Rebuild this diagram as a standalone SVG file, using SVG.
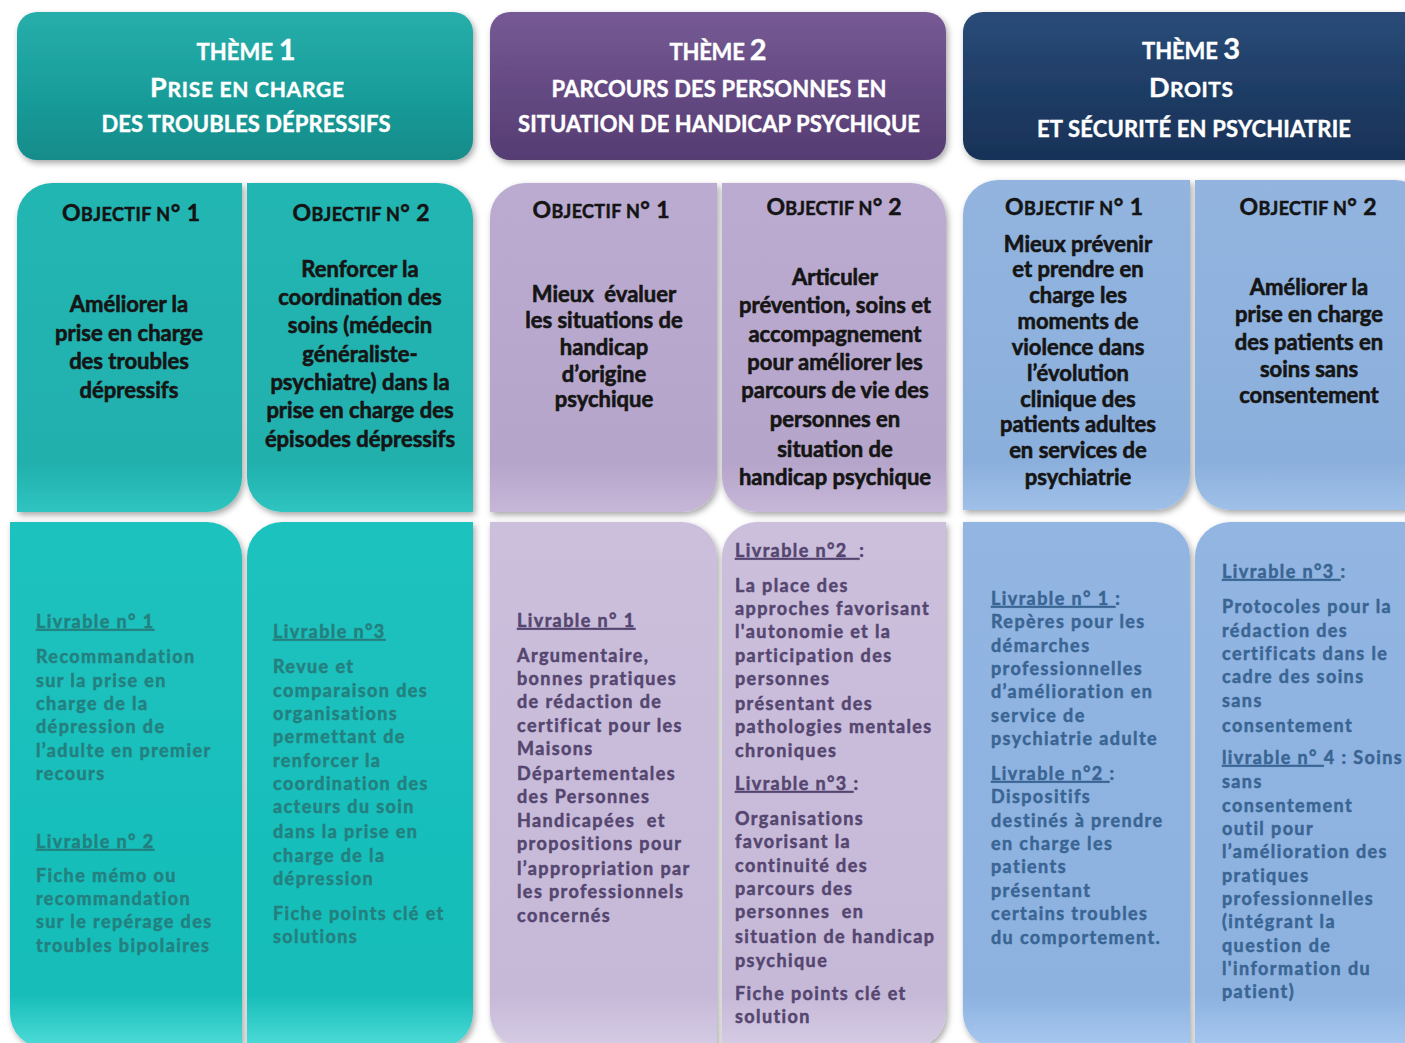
<svg xmlns="http://www.w3.org/2000/svg" width="1405" height="1043" viewBox="0 0 1405 1043">
<defs>
<filter id="sh" x="-10%" y="-10%" width="120%" height="120%">
<feDropShadow dx="2" dy="3" stdDeviation="3" flood-color="#000" flood-opacity="0.35"/>
</filter>
<linearGradient id="gH1" x1="0" y1="0" x2="0" y2="1"><stop offset="0" stop-color="#27aeab"/><stop offset="0.5" stop-color="#1a9f9c"/><stop offset="1" stop-color="#148c8a"/></linearGradient>
<linearGradient id="gH2" x1="0" y1="0" x2="0" y2="1"><stop offset="0" stop-color="#765a95"/><stop offset="0.5" stop-color="#654a83"/><stop offset="1" stop-color="#553d72"/></linearGradient>
<linearGradient id="gH3" x1="0" y1="0" x2="0" y2="1"><stop offset="0" stop-color="#2a4c79"/><stop offset="0.5" stop-color="#1f3d66"/><stop offset="1" stop-color="#183257"/></linearGradient>
<linearGradient id="gO1" x1="0" y1="0" x2="0" y2="1"><stop offset="0" stop-color="#24b6b3"/><stop offset="0.85" stop-color="#20b0ad"/><stop offset="1" stop-color="#2fc4c0"/></linearGradient>
<linearGradient id="gO2" x1="0" y1="0" x2="0" y2="1"><stop offset="0" stop-color="#bcabd0"/><stop offset="0.85" stop-color="#b6a5ca"/><stop offset="1" stop-color="#c6b7d8"/></linearGradient>
<linearGradient id="gO3" x1="0" y1="0" x2="0" y2="1"><stop offset="0" stop-color="#92b4df"/><stop offset="0.85" stop-color="#8bafdc"/><stop offset="1" stop-color="#9fc0e8"/></linearGradient>
<linearGradient id="gL1" x1="0" y1="0" x2="0" y2="1"><stop offset="0" stop-color="#1bc2be"/><stop offset="0.9" stop-color="#18bdb9"/><stop offset="1" stop-color="#4fdcd8"/></linearGradient>
<linearGradient id="gL2" x1="0" y1="0" x2="0" y2="1"><stop offset="0" stop-color="#cbbfdc"/><stop offset="0.9" stop-color="#c6b9d8"/><stop offset="1" stop-color="#d6cce4"/></linearGradient>
<linearGradient id="gL3" x1="0" y1="0" x2="0" y2="1"><stop offset="0" stop-color="#92b5e2"/><stop offset="0.9" stop-color="#8db2e0"/><stop offset="1" stop-color="#a8c8f0"/></linearGradient>
<style>
.h{font-family:Lato,"Open Sans","Liberation Sans",sans-serif;font-weight:700;fill:#ffffff;stroke:#ffffff;stroke-width:0.4px;text-anchor:middle}
.ot{font-family:Lato,"Open Sans","Liberation Sans",sans-serif;font-weight:700;fill:#141414;stroke:#141414;stroke-width:0.5px;text-anchor:middle}
.ob{font-family:Lato,"Open Sans","Liberation Sans",sans-serif;font-weight:700;fill:#151515;stroke:#151515;stroke-width:0.6px;text-anchor:middle;font-size:22px}
.lv{font-family:Lato,"Open Sans","Liberation Sans",sans-serif;font-weight:700;font-size:18px;letter-spacing:1.4px;stroke-width:0.5px}
.c1{fill:#24807f;stroke:#24807f}
.c2{fill:#554670;stroke:#554670}
.c3{fill:#3a6593;stroke:#3a6593}
.u{text-decoration:underline}
</style>
</defs>
<rect width="1405" height="1043" fill="#ffffff"/>

<g id="theme1">
<rect x="17" y="12" width="456" height="148" rx="20" fill="url(#gH1)" filter="url(#sh)"/>
<text class="h" x="246" y="60" textLength="99"><tspan font-size="22">THÈME </tspan><tspan font-size="29">1</tspan></text>
<text class="h" x="247" y="97" textLength="194"><tspan font-size="27">P</tspan><tspan font-size="21">RISE EN CHARGE</tspan></text>
<text class="h" x="246" y="132" font-size="22" textLength="289">DES TROUBLES DÉPRESSIFS</text>
</g>
<g id="theme2">
<rect x="490" y="12" width="456" height="148" rx="20" fill="url(#gH2)" filter="url(#sh)"/>
<text class="h" x="718" y="60" textLength="97"><tspan font-size="22">THÈME </tspan><tspan font-size="29">2</tspan></text>
<text class="h" x="719" y="97" font-size="22" textLength="335">PARCOURS DES PERSONNES EN</text>
<text class="h" x="719" y="132" font-size="22" textLength="402">SITUATION DE HANDICAP PSYCHIQUE</text>
</g>
<g id="theme3">
<rect x="963" y="12" width="470" height="148" rx="20" fill="url(#gH3)" filter="url(#sh)"/>
<text class="h" x="1191" y="59" textLength="98"><tspan font-size="22">THÈME </tspan><tspan font-size="29">3</tspan></text>
<text class="h" x="1191" y="97" textLength="84"><tspan font-size="27">D</tspan><tspan font-size="21">ROITS</tspan></text>
<text class="h" x="1194" y="137" font-size="22" textLength="314">ET SÉCURITÉ EN PSYCHIATRIE</text>
</g>

<g id="t1-objectif1">
<path d="M52 183 H242 V477 A35 35 0 0 1 207 512 H17 V218 A35 35 0 0 1 52 183 Z" fill="url(#gO1)" filter="url(#sh)"/>
<text class="ot" x="131" y="221" textLength="138"><tspan font-size="23">O</tspan><tspan font-size="18">BJECTIF N</tspan><tspan font-size="23">° 1</tspan></text>
<text class="ob" x="129" y="312">Améliorer la</text>
<text class="ob" x="129" y="341">prise en charge</text>
<text class="ob" x="129" y="369">des troubles</text>
<text class="ob" x="129" y="398">dépressifs</text>
</g>
<g id="t1-objectif2">
<path d="M247 183 H438 A35 35 0 0 1 473 218 V512 H282 A35 35 0 0 1 247 477 Z" fill="url(#gO1)" filter="url(#sh)"/>
<text class="ot" x="361" y="221" textLength="137"><tspan font-size="23">O</tspan><tspan font-size="18">BJECTIF N</tspan><tspan font-size="23">° 2</tspan></text>
<text class="ob" x="360" y="277">Renforcer la</text>
<text class="ob" x="360" y="305">coordination des</text>
<text class="ob" x="360" y="333">soins (médecin</text>
<text class="ob" x="360" y="362">généraliste-</text>
<text class="ob" x="360" y="390">psychiatre) dans la</text>
<text class="ob" x="360" y="418">prise en charge des</text>
<text class="ob" x="360" y="447">épisodes dépressifs</text>
</g>
<g id="t2-objectif1">
<path d="M525 183 H717 V477 A35 35 0 0 1 682 512 H490 V218 A35 35 0 0 1 525 183 Z" fill="url(#gO2)" filter="url(#sh)"/>
<text class="ot" x="601" y="218" textLength="137"><tspan font-size="23">O</tspan><tspan font-size="18">BJECTIF N</tspan><tspan font-size="23">° 1</tspan></text>
<text class="ob" x="604" y="302" xml:space="preserve">Mieux  évaluer</text>
<text class="ob" x="604" y="328">les situations de</text>
<text class="ob" x="604" y="355">handicap</text>
<text class="ob" x="604" y="382">d’origine</text>
<text class="ob" x="604" y="407">psychique</text>
</g>
<g id="t2-objectif2">
<path d="M722 183 H911 A35 35 0 0 1 946 218 V512 H757 A35 35 0 0 1 722 477 Z" fill="url(#gO2)" filter="url(#sh)"/>
<text class="ot" x="834" y="215" textLength="135"><tspan font-size="23">O</tspan><tspan font-size="18">BJECTIF N</tspan><tspan font-size="23">° 2</tspan></text>
<text class="ob" x="835" y="285">Articuler</text>
<text class="ob" x="835" y="313">prévention, soins et</text>
<text class="ob" x="835" y="342">accompagnement</text>
<text class="ob" x="835" y="370">pour améliorer les</text>
<text class="ob" x="835" y="398">parcours de vie des</text>
<text class="ob" x="835" y="427">personnes en</text>
<text class="ob" x="835" y="457">situation de</text>
<text class="ob" x="835" y="485">handicap psychique</text>
</g>
<g id="t3-objectif1">
<path d="M998 180 H1190 V475 A35 35 0 0 1 1155 510 H963 V215 A35 35 0 0 1 998 180 Z" fill="url(#gO3)" filter="url(#sh)"/>
<text class="ot" x="1074" y="215" textLength="138"><tspan font-size="23">O</tspan><tspan font-size="18">BJECTIF N</tspan><tspan font-size="23">° 1</tspan></text>
<text class="ob" x="1078" y="252">Mieux prévenir</text>
<text class="ob" x="1078" y="277">et prendre en</text>
<text class="ob" x="1078" y="303">charge les</text>
<text class="ob" x="1078" y="329">moments de</text>
<text class="ob" x="1078" y="355">violence dans</text>
<text class="ob" x="1078" y="381">l’évolution</text>
<text class="ob" x="1078" y="407">clinique des</text>
<text class="ob" x="1078" y="432">patients adultes</text>
<text class="ob" x="1078" y="458">en services de</text>
<text class="ob" x="1078" y="485">psychiatrie</text>
</g>
<g id="t3-objectif2">
<path d="M1195 180 H1395 A35 35 0 0 1 1430 215 V510 H1230 A35 35 0 0 1 1195 475 Z" fill="url(#gO3)" filter="url(#sh)"/>
<text class="ot" x="1308" y="215" textLength="137"><tspan font-size="23">O</tspan><tspan font-size="18">BJECTIF N</tspan><tspan font-size="23">° 2</tspan></text>
<text class="ob" x="1309" y="295">Améliorer la</text>
<text class="ob" x="1309" y="322">prise en charge</text>
<text class="ob" x="1309" y="350">des patients en</text>
<text class="ob" x="1309" y="377">soins sans</text>
<text class="ob" x="1309" y="403">consentement</text>
</g>

<g id="t1-livrables1">
<path d="M10 522 H207 A35 35 0 0 1 242 557 V1048 H45 A35 35 0 0 1 10 1013 Z" fill="url(#gL1)" filter="url(#sh)"/>
<text class="lv c1" x="36" y="628"><tspan class="u">Livrable n° 1</tspan></text>
<text class="lv c1" x="36" y="663">Recommandation</text>
<text class="lv c1" x="36" y="687">sur la prise en</text>
<text class="lv c1" x="36" y="710">charge de la</text>
<text class="lv c1" x="36" y="733">dépression de</text>
<text class="lv c1" x="36" y="757">l’adulte en premier</text>
<text class="lv c1" x="36" y="780">recours</text>
<text class="lv c1" x="36" y="848"><tspan class="u">Livrable n° 2</tspan></text>
<text class="lv c1" x="36" y="882">Fiche mémo ou</text>
<text class="lv c1" x="36" y="905">recommandation</text>
<text class="lv c1" x="36" y="928">sur le repérage des</text>
<text class="lv c1" x="36" y="952">troubles bipolaires</text>
</g>
<g id="t1-livrables2">
<path d="M282 522 H473 V1013 A35 35 0 0 1 438 1048 H247 V557 A35 35 0 0 1 282 522 Z" fill="url(#gL1)" filter="url(#sh)"/>
<text class="lv c1" x="273" y="638"><tspan class="u">Livrable n°3</tspan></text>
<text class="lv c1" x="273" y="673">Revue et</text>
<text class="lv c1" x="273" y="697">comparaison des</text>
<text class="lv c1" x="273" y="720">organisations</text>
<text class="lv c1" x="273" y="743">permettant de</text>
<text class="lv c1" x="273" y="767">renforcer la</text>
<text class="lv c1" x="273" y="790">coordination des</text>
<text class="lv c1" x="273" y="813">acteurs du soin</text>
<text class="lv c1" x="273" y="838">dans la prise en</text>
<text class="lv c1" x="273" y="862">charge de la</text>
<text class="lv c1" x="273" y="885">dépression</text>
<text class="lv c1" x="273" y="920">Fiche points clé et</text>
<text class="lv c1" x="273" y="943">solutions</text>
</g>
<g id="t2-livrables1">
<path d="M490 522 H682 A35 35 0 0 1 717 557 V1048 H525 A35 35 0 0 1 490 1013 Z" fill="url(#gL2)" filter="url(#sh)"/>
<text class="lv c2" x="517" y="627"><tspan class="u">Livrable n° 1</tspan></text>
<text class="lv c2" x="517" y="662">Argumentaire,</text>
<text class="lv c2" x="517" y="685">bonnes pratiques</text>
<text class="lv c2" x="517" y="708">de rédaction de</text>
<text class="lv c2" x="517" y="732">certificat pour les</text>
<text class="lv c2" x="517" y="755">Maisons</text>
<text class="lv c2" x="517" y="780">Départementales</text>
<text class="lv c2" x="517" y="803">des Personnes</text>
<text class="lv c2" x="517" y="827" xml:space="preserve">Handicapées  et</text>
<text class="lv c2" x="517" y="850">propositions pour</text>
<text class="lv c2" x="517" y="875">l’appropriation par</text>
<text class="lv c2" x="517" y="898">les professionnels</text>
<text class="lv c2" x="517" y="922">concernés</text>
</g>
<g id="t2-livrables2">
<path d="M757 522 H946 V1013 A35 35 0 0 1 911 1048 H722 V557 A35 35 0 0 1 757 522 Z" fill="url(#gL2)" filter="url(#sh)"/>
<text class="lv c2" x="735" y="557" xml:space="preserve"><tspan class="u">Livrable n°2  </tspan>:</text>
<text class="lv c2" x="735" y="592">La place des</text>
<text class="lv c2" x="735" y="615">approches favorisant</text>
<text class="lv c2" x="735" y="638">l'autonomie et la</text>
<text class="lv c2" x="735" y="662">participation des</text>
<text class="lv c2" x="735" y="685">personnes</text>
<text class="lv c2" x="735" y="710">présentant des</text>
<text class="lv c2" x="735" y="733">pathologies mentales</text>
<text class="lv c2" x="735" y="757">chroniques</text>
<text class="lv c2" x="735" y="790" xml:space="preserve"><tspan class="u">Livrable n°3 </tspan>:</text>
<text class="lv c2" x="735" y="825">Organisations</text>
<text class="lv c2" x="735" y="848">favorisant la</text>
<text class="lv c2" x="735" y="872">continuité des</text>
<text class="lv c2" x="735" y="895">parcours des</text>
<text class="lv c2" x="735" y="918" xml:space="preserve">personnes  en</text>
<text class="lv c2" x="735" y="943">situation de handicap</text>
<text class="lv c2" x="735" y="967">psychique</text>
<text class="lv c2" x="735" y="1000">Fiche points clé et</text>
<text class="lv c2" x="735" y="1023">solution</text>
</g>
<g id="t3-livrables1">
<path d="M963 522 H1155 A35 35 0 0 1 1190 557 V1048 H998 A35 35 0 0 1 963 1013 Z" fill="url(#gL3)" filter="url(#sh)"/>
<text class="lv c3" x="991" y="605" xml:space="preserve"><tspan class="u">Livrable n° 1 </tspan>:</text>
<text class="lv c3" x="991" y="628">Repères pour les</text>
<text class="lv c3" x="991" y="652">démarches</text>
<text class="lv c3" x="991" y="675">professionnelles</text>
<text class="lv c3" x="991" y="698">d’amélioration en</text>
<text class="lv c3" x="991" y="722">service de</text>
<text class="lv c3" x="991" y="745">psychiatrie adulte</text>
<text class="lv c3" x="991" y="780" xml:space="preserve"><tspan class="u">Livrable n°2 </tspan>:</text>
<text class="lv c3" x="991" y="803">Dispositifs</text>
<text class="lv c3" x="991" y="827">destinés à prendre</text>
<text class="lv c3" x="991" y="850">en charge les</text>
<text class="lv c3" x="991" y="873">patients</text>
<text class="lv c3" x="991" y="897">présentant</text>
<text class="lv c3" x="991" y="920">certains troubles</text>
<text class="lv c3" x="991" y="944">du comportement.</text>
</g>
<g id="t3-livrables2">
<path d="M1230 522 H1430 V1048 H1195 V557 A35 35 0 0 1 1230 522 Z" fill="url(#gL3)" filter="url(#sh)"/>
<text class="lv c3" x="1222" y="578" xml:space="preserve"><tspan class="u">Livrable n°3 </tspan>:</text>
<text class="lv c3" x="1222" y="613">Protocoles pour la</text>
<text class="lv c3" x="1222" y="637">rédaction des</text>
<text class="lv c3" x="1222" y="660">certificats dans le</text>
<text class="lv c3" x="1222" y="683">cadre des soins</text>
<text class="lv c3" x="1222" y="707">sans</text>
<text class="lv c3" x="1222" y="732">consentement</text>
<text class="lv c3" x="1222" y="764" xml:space="preserve"><tspan class="u">livrable n° </tspan>4 : Soins</text>
<text class="lv c3" x="1222" y="788">sans</text>
<text class="lv c3" x="1222" y="812">consentement</text>
<text class="lv c3" x="1222" y="835">outil pour</text>
<text class="lv c3" x="1222" y="858">l’amélioration des</text>
<text class="lv c3" x="1222" y="882">pratiques</text>
<text class="lv c3" x="1222" y="905">professionnelles</text>
<text class="lv c3" x="1222" y="928">(intégrant la</text>
<text class="lv c3" x="1222" y="952">question de</text>
<text class="lv c3" x="1222" y="975">l'information du</text>
<text class="lv c3" x="1222" y="998">patient)</text>
</g>
<g id="connectors"/>
</svg>
